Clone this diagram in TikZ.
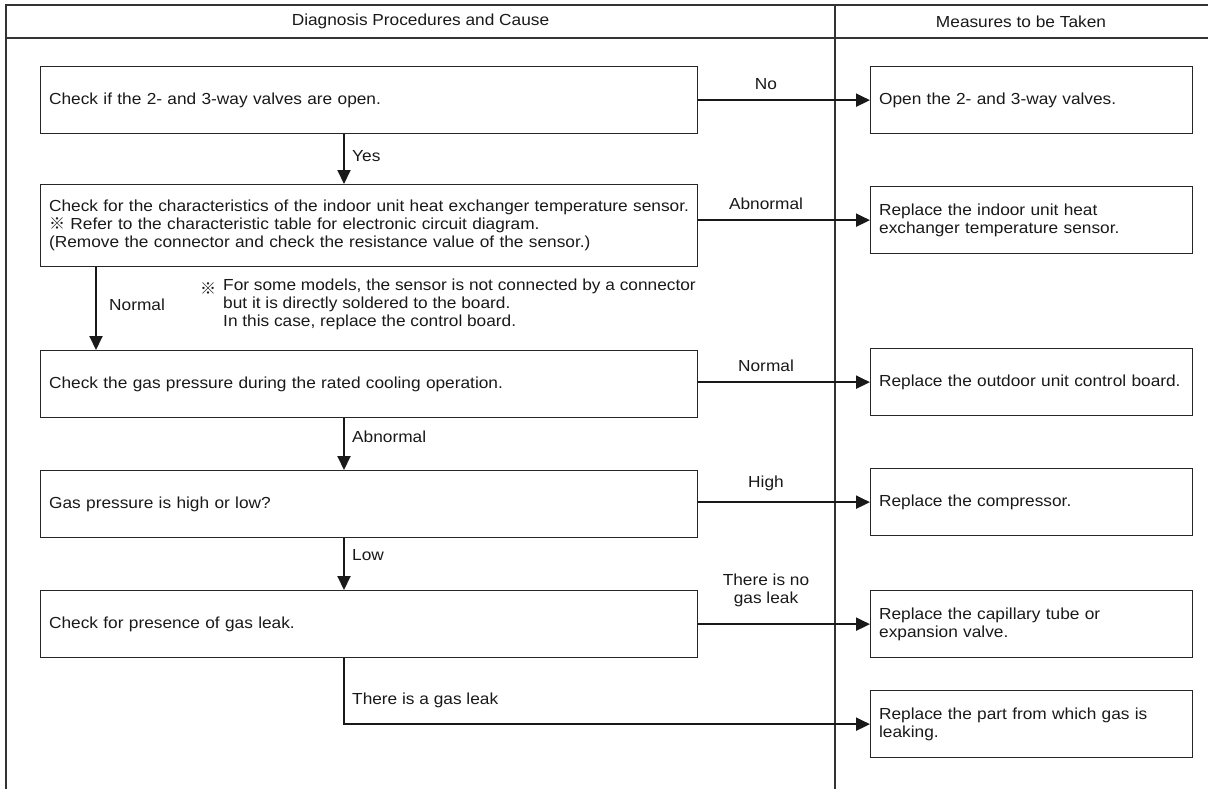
\documentclass[tikz,border=0pt]{standalone}
\usepackage{fontspec}
\setmainfont{Liberation Sans}[FakeStretch=1.08]
\newfontfamily\cjk{Noto Sans CJK JP}
\usetikzlibrary{arrows.meta}
\begin{document}
\begin{tikzpicture}[x=1bp,y=-1bp,
  every node/.style={font=\fontsize{16bp}{18bp}\selectfont, text=black!90},
  tbl/.style={draw=black!80, line width=1.1bp},
  lbox/.style={draw=black!85, line width=1.3bp, anchor=north west, minimum width=657bp, minimum height=67bp, text width=640bp, inner xsep=8.5bp, inner ysep=0pt, align=left},
  rbox/.style={draw=black!85, line width=1.3bp, anchor=north west, minimum width=322bp, minimum height=67bp, text width=305bp, inner xsep=8.5bp, inner ysep=0pt, align=left},
  arr/.style={draw=black!90, line width=2bp, -{Triangle[length=14bp,width=13bp]}},
  lbl/.style={inner sep=0pt}
]
\useasboundingbox (0,0) rectangle (1208,789);
% table frame
\coordinate (tl) at (6,5);
\coordinate (tr) at (1208,5);
\coordinate (bl) at (6,789);
\coordinate (hl) at (6,38);
\coordinate (hr) at (1208,38);
\coordinate (dt) at (835,5);
\coordinate (db) at (835,789);
\draw[tbl] (tr) -- (tl) -- (bl);
\draw[tbl] (hl) -- (hr);
\draw[tbl] (dt) -- (db);
\node (h1) at (420.5,21.5) {Diagnosis Procedures and Cause};
\node (h2) at (1021,21.5) {Measures to be Taken};

% left boxes
\node[lbox] (B1) at (40,66) {Check if the 2- and 3-way valves are open.};
\node[lbox, minimum height=82bp] (B2) at (40,184) {Check for the characteristics of the indoor unit heat exchanger temperature sensor.\\{\cjk ※} Refer to the characteristic table for electronic circuit diagram.\\(Remove the connector and check the resistance value of the sensor.)};
\node[lbox] (B3) at (40,350) {Check the gas pressure during the rated cooling operation.};
\node[lbox] (B4) at (40,470) {Gas pressure is high or low?};
\node[lbox] (B5) at (40,590) {Check for presence of gas leak.};

% right boxes
\node[rbox] (R1) at (870,66) {Open the 2- and 3-way valves.};
\node[rbox] (R2) at (870,186) {Replace the indoor unit heat\\exchanger temperature sensor.};
\node[rbox] (R3) at (870,348) {Replace the outdoor unit control board.};
\node[rbox] (R4) at (870,468) {Replace the compressor.};
\node[rbox] (R5) at (870,590) {Replace the capillary tube or\\expansion valve.};
\node[rbox] (R6) at (870,690) {Replace the part from which gas is\\leaking.};

% spine coordinates
\coordinate (sp) at (344,0);
\coordinate (nx) at (96,0);

% horizontal arrows
\draw[arr] (B1.east) -- (R1.west);
\draw[arr] (B2.east |- R2.west) -- (R2.west);
\draw[arr] (B3.east |- R3.west) -- (R3.west);
\draw[arr] (B4.east |- R4.west) -- (R4.west);
\draw[arr] (B5.east) -- (R5.west);
\draw[arr] (B5.south -| sp) |- (R6.west);

% vertical arrows
\draw[arr] (B1.south -| sp) -- (B2.north -| sp);
\draw[arr] (B2.south -| nx) -- (B3.north -| nx);
\draw[arr] (B3.south -| sp) -- (B4.north -| sp);
\draw[arr] (B4.south -| sp) -- (B5.north -| sp);

% labels
\node[lbl] (lNo) at (766,84) {No};
\node[lbl] (lAb1) at (766,204) {Abnormal};
\node[lbl] (lNo2) at (766,366) {Normal};
\node[lbl] (lHi) at (766,483) {High};
\node[lbl, align=center] (lNoLeak) at (766,590) {There is no\\gas leak};
\node[lbl, anchor=west] (lYes) at (352,156) {Yes};
\node[lbl, anchor=west] (lNormal) at (109,305) {Normal};
\node[lbl, anchor=west] (lAb2) at (352,437) {Abnormal};
\node[lbl, anchor=west] (lLow) at (352,555) {Low};
\node[lbl, anchor=west] (lLeak) at (352,700) {There is a gas leak};

% note
\node[lbl, anchor=west] (nm) at (200,289) {\cjk ※};
\node[lbl, anchor=north west, align=left] (nt) at (223,279) {For some models, the sensor is not connected by a connector\\but it is directly soldered to the board.\\In this case, replace the control board.};
\end{tikzpicture}
\end{document}
